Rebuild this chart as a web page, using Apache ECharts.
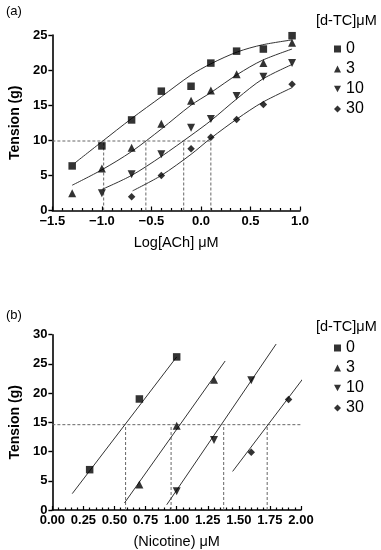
<!DOCTYPE html>
<html>
<head>
<meta charset="utf-8">
<script src="https://cdn.jsdelivr.net/npm/echarts@6/dist/echarts.min.js"></script>
<style>html,body{margin:0;padding:0;background:#fff}#c{width:381px;height:550px}</style>
</head>
<body>
<div id="c"></div>
<script>
// ---------- Panel (a) ----------
var groupNames = ['0', '3', '10', '30'];
var aX0 = [-1.3, -1.0, -0.7, -0.4, -0.1, 0.1, 0.36, 0.63, 0.92];
var aY0 = [6.35, 9.2, 12.9, 17.0, 17.7, 21.0, 22.7, 23.0, 24.9];
var aX3 = [-1.3, -1.0, -0.7, -0.4, -0.1, 0.1, 0.36, 0.63, 0.92];
var aY3 = [2.45, 6.0, 8.95, 12.35, 15.65, 17.1, 19.4, 21.0, 23.9];
var aX10 = [-1.0, -0.7, -0.4, -0.1, 0.1, 0.36, 0.63, 0.92];
var aY10 = [2.45, 5.15, 8.0, 11.8, 13.05, 16.3, 19.05, 21.0];
var aX30 = [-0.7, -0.4, -0.1, 0.1, 0.36, 0.63, 0.92];
var aY30 = [1.95, 5.0, 8.8, 10.45, 12.95, 15.1, 18.0];
// fitted curves
var aFitX0 = [-1.27, -1.0, -0.7, -0.4, -0.1, 0.1, 0.37, 0.62, 0.92];
var aFitY0 = [6.8, 9.8, 13.1, 16.2, 19.3, 20.9, 22.6, 23.6, 24.3];
var aFitX3 = [-1.3, -1.0, -0.7, -0.4, -0.1, 0.1, 0.37, 0.62, 0.92];
var aFitY3 = [3.6, 5.8, 8.4, 11.6, 15.0, 16.8, 19.4, 21.4, 23.0];
var aFitX10 = [-1.0, -0.7, -0.4, -0.1, 0.1, 0.37, 0.62, 0.92];
var aFitY10 = [3.0, 5.0, 7.7, 10.7, 12.8, 16.0, 18.7, 20.8];
var aFitX30 = [-0.69, -0.4, -0.1, 0.1, 0.37, 0.62, 0.92];
var aFitY30 = [2.8, 5.0, 8.0, 10.3, 13.1, 15.4, 17.5];
var aRefY = 9.9;
var aRefXs = [-0.982, -0.556, -0.174, 0.100];
var aXTicks = {min: -1.5, max: 1.0, step: 0.5};
var aYTicks = {min: 0, max: 25, step: 5};

// ---------- Panel (b) ----------
var bX0 = [0.3, 0.7, 1.0];
var bY0 = [6.9, 19.0, 26.2];
var bX3 = [0.7, 1.0, 1.3];
var bY3 = [4.35, 14.4, 22.3];
var bX10 = [1.0, 1.3, 1.6];
var bY10 = [3.2, 12.0, 22.2];
var bX30 = [1.6, 1.9];
var bY30 = [9.9, 18.9];
var bLineX0 = [0.16, 1.0];
var bLineY0 = [2.8, 26.2];
var bLineX3 = [0.58, 1.39];
var bLineY3 = [1.2, 25.5];
var bLineX10 = [0.92, 1.80];
var bLineY10 = [0.9, 28.4];
var bLineX30 = [1.45, 2.02];
var bLineY30 = [6.6, 22.6];
var bRefY = 14.6;
var bRefXEnd = 2.04;
var bRefXs = [0.589, 0.955, 1.378, 1.728];
var bXTicks = {min: 0, max: 2.0, step: 0.25};
var bYTicks = {min: 0, max: 30, step: 5};

var legendTitle = '[d-TC]\u03bcM';

// ---------- build ----------
var INK = '#000';
var LINE = '#333';
var DASH = '#666';
var downTri = 'path://M0,0 L10,0 L5,9 Z';
var symbols = ['rect', 'triangle', downTri, 'diamond'];
var sizes = [7.5, 8, 8, 7.5];

function zip(xs, ys) { return xs.map(function (x, i) { return [x, ys[i]]; }); }

function scatter(name, xs, ys, idx, gi) {
  return {
    type: 'scatter', name: name, xAxisIndex: gi, yAxisIndex: gi,
    data: zip(xs, ys), symbol: symbols[idx], symbolSize: sizes[idx],
    itemStyle: {color: INK}, z: 5, silent: true
  };
}
function curve(xs, ys, gi, smooth) {
  return {
    type: 'line', name: 'fit', xAxisIndex: gi, yAxisIndex: gi,
    data: zip(xs, ys), showSymbol: false, symbol: 'none', smooth: smooth,
    clip: false, lineStyle: {color: LINE, width: 1}, silent: true, z: 3
  };
}
function seg(p, q, gi) {
  return {
    type: 'line', name: 'ref', xAxisIndex: gi, yAxisIndex: gi,
    data: [p, q], showSymbol: false, symbol: 'none', clip: false, silent: true, z: 2,
    lineStyle: {color: DASH, type: [3, 2], width: 1}
  };
}
function refLines(refY, xStart, xEnd, xs, gi) {
  var out = [seg([xStart, refY], [xEnd, refY], gi)];
  xs.forEach(function (x) { out.push(seg([x, 0], [x, refY], gi)); });
  return out;
}

var FONT = '"Liberation Sans", Arial, Helvetica, sans-serif';

function xAxis(gi, t, dec, name, gap, minorSplit) {
  return {
    type: 'value', gridIndex: gi, min: t.min, max: t.max, interval: t.step,
    name: name, nameLocation: 'middle', nameGap: gap,
    nameTextStyle: {fontFamily: FONT, fontSize: 14.5, color: INK},
    axisLine: {onZero: false, lineStyle: {color: INK, width: 1.6}},
    axisTick: {inside: true, length: 4, lineStyle: {color: INK, width: 1.2}},
    minorTick: {show: true, splitNumber: minorSplit, length: 2.5, lineStyle: {color: INK, width: 1.2}},
    splitLine: {show: false},
    axisLabel: {margin: 4, fontFamily: FONT, fontSize: 13, fontWeight: 'bold', color: INK,
      formatter: function (v) { return v.toFixed(dec).replace('-', '\u2212'); }}
  };
}
function yAxis(gi, t) {
  return {
    type: 'value', gridIndex: gi, min: t.min, max: t.max, interval: t.step,
    name: 'Tension (g)', nameLocation: 'middle', nameGap: 19,
    nameTextStyle: {fontFamily: FONT, fontSize: 14, fontWeight: 'bold', color: INK},
    axisLine: {onZero: false, lineStyle: {color: INK, width: 1.6}},
    axisTick: {inside: false, length: 4, lineStyle: {color: INK, width: 1.4}},
    splitLine: {show: false},
    axisLabel: {margin: 5, fontFamily: FONT, fontSize: 13, fontWeight: 'bold', color: INK}
  };
}
function legend(top) {
  return {
    orient: 'vertical', left: 329, top: top, itemWidth: 7, itemHeight: 7, itemGap: 0,
    selectedMode: false,
    textStyle: {fontFamily: FONT, fontSize: 16, lineHeight: 20, color: INK},
    data: groupNames.map(function (n, i) { return {name: n, icon: symbols[i]}; })
  };
}

var series = [].concat(
  refLines(aRefY, aXTicks.min, aRefXs[aRefXs.length - 1], aRefXs, 0),
  [curve(aFitX0, aFitY0, 0, 0.3), curve(aFitX3, aFitY3, 0, 0.3),
   curve(aFitX10, aFitY10, 0, 0.3), curve(aFitX30, aFitY30, 0, 0.3),
   scatter(groupNames[0], aX0, aY0, 0, 0), scatter(groupNames[1], aX3, aY3, 1, 0),
   scatter(groupNames[2], aX10, aY10, 2, 0), scatter(groupNames[3], aX30, aY30, 3, 0)],
  refLines(bRefY, bXTicks.min, bRefXEnd, bRefXs, 1),
  [curve(bLineX0, bLineY0, 1, false), curve(bLineX3, bLineY3, 1, false),
   curve(bLineX10, bLineY10, 1, false), curve(bLineX30, bLineY30, 1, false),
   scatter(groupNames[0], bX0, bY0, 0, 1), scatter(groupNames[1], bX3, bY3, 1, 1),
   scatter(groupNames[2], bX10, bY10, 2, 1), scatter(groupNames[3], bX30, bY30, 3, 1)]
);

var chart = echarts.init(document.getElementById('c'), null, {renderer: 'canvas'});
chart.setOption({
  animation: false,
  backgroundColor: '#fff',
  textStyle: {fontFamily: FONT},
  title: [
    {text: '(a)', left: 1, top: 0, textStyle: {fontFamily: FONT, fontSize: 13, fontWeight: 'normal', color: INK}},
    {text: '(b)', left: 1, top: 304, textStyle: {fontFamily: FONT, fontSize: 13, fontWeight: 'normal', color: INK}},
    {text: legendTitle, left: 316, top: 13, padding: 0, textStyle: {fontFamily: FONT, fontSize: 14.5, fontWeight: 'normal', color: INK}},
    {text: legendTitle, left: 316, top: 319, padding: 0, textStyle: {fontFamily: FONT, fontSize: 14.5, fontWeight: 'normal', color: INK}}
  ],
  legend: [legend(34), legend(333)],
  grid: [
    {left: 36, top: 35, width: 264, height: 175.5},
    {left: 36, top: 334.7, width: 265, height: 175.8}
  ],
  xAxis: [
    xAxis(0, aXTicks, 1, 'Log[ACh] \u03bcM', 25, 5),
    xAxis(1, bXTicks, 2, '(Nicotine) \u03bcM', 24, 5)
  ],
  yAxis: [yAxis(0, aYTicks), yAxis(1, bYTicks)],
  series: series
});
</script>
</body>
</html>
